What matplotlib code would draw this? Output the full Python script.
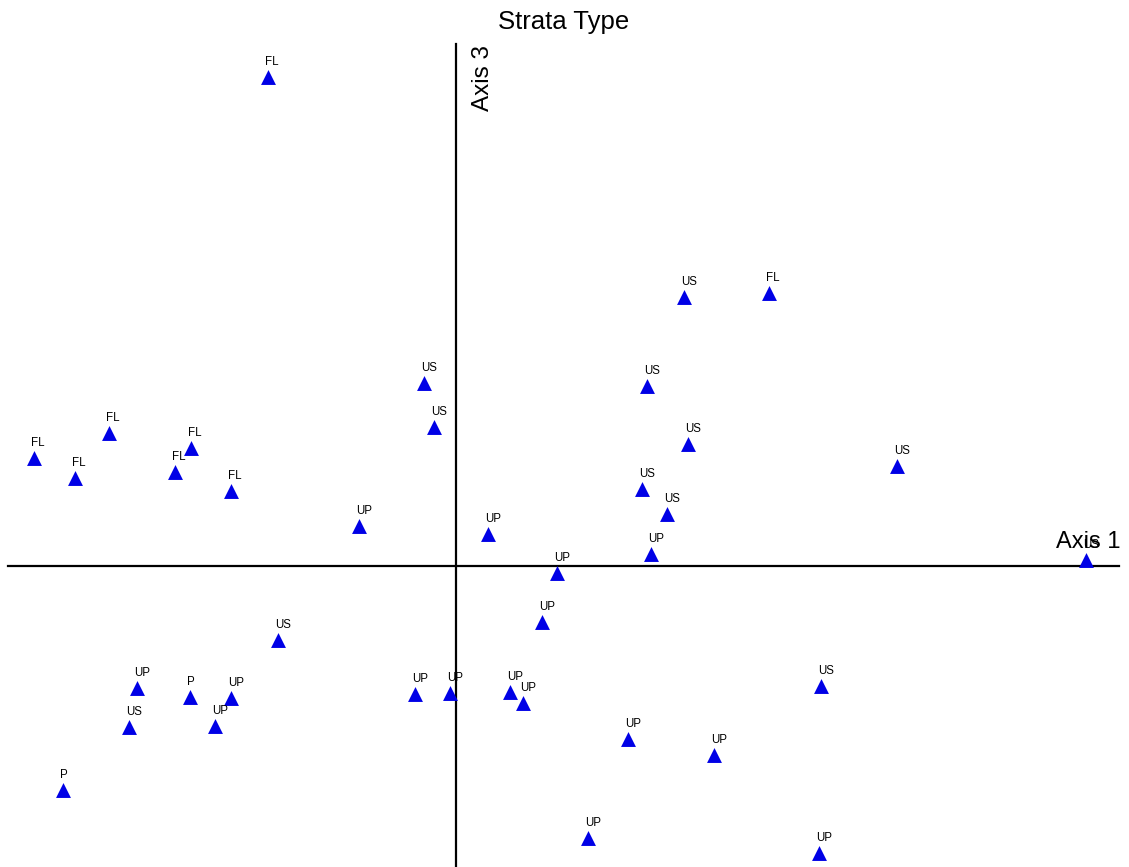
import matplotlib
matplotlib.use('Agg')
import matplotlib.pyplot as plt

# ordination scores (axis 1, axis 3), arbitrary units centred on the origin
labels = ['FL', 'US', 'FL', 'US', 'US', 'US', 'FL', 'FL', 'US', 'FL',
          'FL', 'FL', 'FL', 'US', 'US', 'US', 'UP', 'UP', 'UP', 'UP',
          'US', 'UP', 'US', 'US', 'UP', 'P', 'UP', 'UP', 'UP', 'UP',
          'UP', 'US', 'UP', 'UP', 'UP', 'P', 'UP', 'UP']
axis1 = [-188, 228, 313, -32, 191, -22, -347, -265, 232, -422,
         -381, -281, -225, 441, 186, 211, -97, 32, 195, 101,
         630, 86, -178, 365, -319, -266, -225, -41, -6, 54,
         67, -327, -241, 172, 258, -393, 132, 363]
axis3 = [489, 269, 273, 183, 180, 139, 133, 118, 122, 108,
         88, 94, 75, 100, 77, 52, 40, 32, 12, -7,
         6, -56, -74, -120, -122, -131, -132, -128, -127, -126,
         -137, -161, -160, -173, -189, -224, -272, -287]

fig = plt.figure(figsize=(11.29, 8.67), dpi=100)
ax = fig.add_axes([0, 0, 1, 1])
ax.set_xlim(-456, 673)
ax.set_ylim(-301, 566)
ax.axis('off')

# axis lines through the origin
ax.plot([-448, 663], [0, 0], color='black', lw=1.6, zorder=1)
ax.plot([0, 0], [-301, 522], color='black', lw=1.6, zorder=1)

ax.scatter(axis1, axis3, marker='^', s=115, color='#0000E6', lw=0, zorder=3)
for x, y, lab in zip(axis1, axis3, labels):
    ax.text(x - 3, y + 9, lab, ha='left', va='bottom', fontsize=8.3,
            family='Liberation Sans', zorder=4)

ax.text(0.499, 0.975, 'Strata Type', transform=fig.transFigure, ha='center', va='center',
        fontsize=18.5, family='Liberation Sans')
ax.text(27, 521, 'Axis 3', rotation=90, ha='center', va='top',
        fontsize=17.5, family='Liberation Sans')
ax.text(664, 13, 'Axis 1', ha='right', va='bottom',
        fontsize=17, family='Liberation Sans')

fig.savefig('out.png', dpi=100, facecolor='white')
